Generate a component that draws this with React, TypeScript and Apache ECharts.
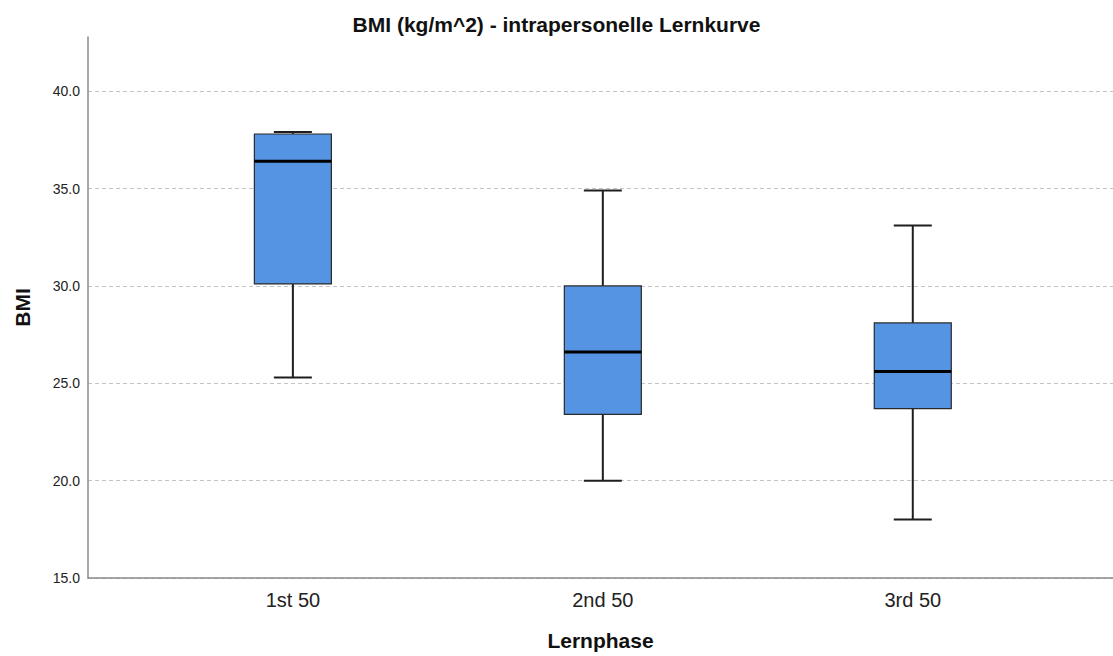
import React, { useEffect, useRef } from "react";
import * as echarts from "echarts";

const categories = ["1st 50", "2nd 50", "3rd 50"];
const mins = [25.3, 20.0, 18.0];
const q1s = [30.1, 23.4, 23.7];
const medians = [36.4, 26.6, 25.6];
const q3s = [37.8, 30.0, 28.1];
const maxs = [37.9, 34.9, 33.1];
const yTicks = [15, 20, 25, 30, 35, 40];

export default function App() {
  const ref = useRef<HTMLDivElement>(null);
  useEffect(() => {
    if (!ref.current) return;
    const chart = echarts.init(ref.current, undefined, { renderer: "svg" });
    const data = categories.map((_, i) => [i, mins[i], q1s[i], medians[i], q3s[i], maxs[i]]);
    const BOX_W = 77;
    const CAP_W = 38;
    chart.setOption({
      animation: false,
      backgroundColor: "#ffffff",
      title: {
        text: "BMI (kg/m^2) - intrapersonelle Lernkurve",
        left: "center",
        top: 9,
        textStyle: { fontFamily: "Liberation Sans", fontSize: 21, fontWeight: "bold", color: "#111" },
      },
      grid: { left: 88, right: 0, top: 37, bottom: 78 },
      xAxis: {
        type: "value",
        min: -0.661,
        max: 2.646,
        name: "Lernphase",
        nameLocation: "middle",
        nameGap: 52,
        nameTextStyle: { fontFamily: "Liberation Sans", fontSize: 21, fontWeight: "bold", color: "#111" },
        axisLine: { show: true, onZero: false, lineStyle: { color: "#8a8a8a", width: 1.5 } },
        axisTick: { show: false },
        splitLine: { show: false },
        axisLabel: {
          customValues: [0, 1, 2],
          formatter: (v: number) => categories[Math.round(v)] ?? "",
          fontFamily: "Liberation Sans",
          fontSize: 20,
          color: "#222",
          margin: 12,
        },
      },
      yAxis: {
        type: "value",
        min: 15,
        max: 42.78,
        name: "BMI",
        nameLocation: "middle",
        nameGap: 55,
        nameTextStyle: { fontFamily: "Liberation Sans", fontSize: 21, fontWeight: "bold", color: "#111" },
        axisLine: { show: true, onZero: false, lineStyle: { color: "#8a8a8a", width: 1.5 } },
        axisTick: { show: false, customValues: yTicks },
        axisLabel: {
          customValues: yTicks,
          formatter: (v: number) => v.toFixed(1),
          fontFamily: "Liberation Sans",
          fontSize: 14,
          color: "#222",
          margin: 8,
          padding: [4, 0, 0, 0],
        },
        splitLine: { show: true, lineStyle: { color: "#c4c4c4", type: [4, 3], width: 1 } },
      },
      series: [
        {
          type: "custom",
          data,
          encode: { x: 0, y: [1, 2, 3, 4, 5] },
          renderItem: (params: any, api: any) => {
            const x = api.value(0);
            const pMin = api.coord([x, api.value(1)]);
            const pQ1 = api.coord([x, api.value(2)]);
            const pMed = api.coord([x, api.value(3)]);
            const pQ3 = api.coord([x, api.value(4)]);
            const pMax = api.coord([x, api.value(5)]);
            const cx = pMin[0];
            const whisker = { stroke: "#1e1e1e", lineWidth: 2 };
            return {
              type: "group",
              children: [
                { type: "line", shape: { x1: cx, y1: pMax[1], x2: cx, y2: pQ3[1] }, style: whisker },
                { type: "line", shape: { x1: cx, y1: pQ1[1], x2: cx, y2: pMin[1] }, style: whisker },
                {
                  type: "rect",
                  shape: { x: cx - BOX_W / 2, y: pQ3[1], width: BOX_W, height: pQ1[1] - pQ3[1] },
                  style: { fill: "#5593e3", stroke: "#2a2a2a", lineWidth: 1.2 },
                },
                { type: "line", shape: { x1: cx - CAP_W / 2, y1: pMax[1], x2: cx + CAP_W / 2, y2: pMax[1] }, style: whisker },
                { type: "line", shape: { x1: cx - CAP_W / 2, y1: pMin[1], x2: cx + CAP_W / 2, y2: pMin[1] }, style: whisker },
                {
                  type: "line",
                  shape: { x1: cx - BOX_W / 2, y1: pMed[1], x2: cx + BOX_W / 2, y2: pMed[1] },
                  style: { stroke: "#000", lineWidth: 3 },
                },
              ],
            };
          },
        },
      ],
    });
    return () => chart.dispose();
  }, []);
  return <div ref={ref} style={{ position: "fixed", left: 0, top: 0, width: 1113, height: 656 }} />;
}
